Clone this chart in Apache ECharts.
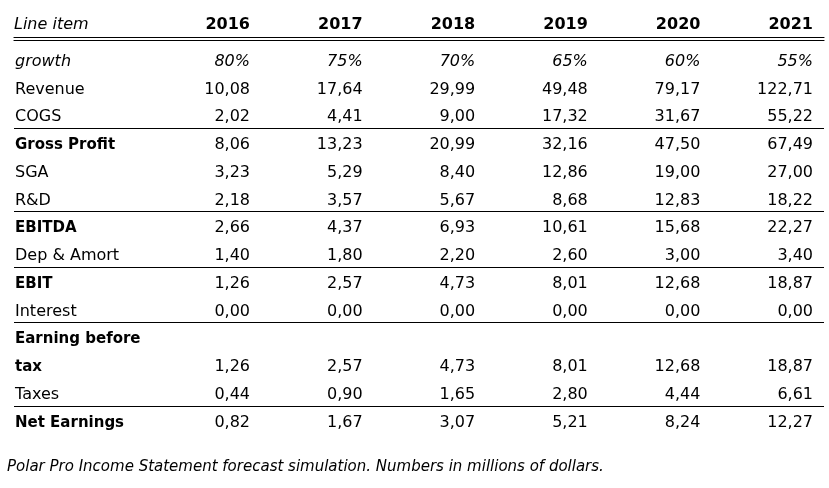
<!DOCTYPE html>
<html>
<head>
<meta charset="utf-8">
<script src="https://cdn.jsdelivr.net/npm/echarts@6/dist/echarts.min.js"></script>
<style>
  html, body { margin: 0; padding: 0; background: #fff; }
  #main { width: 829px; height: 488px; }
</style>
</head>
<body>
<div id="main"></div>
<script>
var years = ['2016', '2017', '2018', '2019', '2020', '2021'];
var rowLabels = ['growth', 'Revenue', 'COGS', 'Gross Profit', 'SGA', 'R&D', 'EBITDA',
    'Dep & Amort', 'EBIT', 'Interest', 'Earning before', 'tax', 'Taxes', 'Net Earnings'];

// growth in %, the rest in millions of dollars
var growth       = [80, 75, 70, 65, 60, 55];
var revenue      = [10.08, 17.64, 29.99, 49.48, 79.17, 122.71];
var cogs         = [2.02, 4.41, 9.00, 17.32, 31.67, 55.22];
var grossProfit  = [8.06, 13.23, 20.99, 32.16, 47.50, 67.49];
var sga          = [3.23, 5.29, 8.40, 12.86, 19.00, 27.00];
var rnd          = [2.18, 3.57, 5.67, 8.68, 12.83, 18.22];
var ebitda       = [2.66, 4.37, 6.93, 10.61, 15.68, 22.27];
var depAmort     = [1.40, 1.80, 2.20, 2.60, 3.00, 3.40];
var ebit         = [1.26, 2.57, 4.73, 8.01, 12.68, 18.87];
var interest     = [0.00, 0.00, 0.00, 0.00, 0.00, 0.00];
var earningBT    = [1.26, 2.57, 4.73, 8.01, 12.68, 18.87];
var taxes        = [0.44, 0.90, 1.65, 2.80, 4.44, 6.61];
var netEarnings  = [0.82, 1.67, 3.07, 5.21, 8.24, 12.27];

// one entry per table row ("Earning before tax" wraps over two rows)
var rowValues = [growth, revenue, cogs, grossProfit, sga, rnd, ebitda, depAmort,
    ebit, interest, null, earningBT, taxes, netEarnings];

var boldRows = ['Gross Profit', 'EBITDA', 'EBIT', 'Earning before', 'tax', 'Net Earnings'];
var italicRows = ['growth'];
var ruleAfter = ['COGS', 'R&D', 'Dep & Amort', 'Interest', 'Taxes'];

var caption = 'Polar Pro Income Statement forecast simulation. Numbers in millions of dollars.';

var FONT = 'DejaVu Sans';
var SIZE = 16;
var SHIFT = 3;

function fmt(row, v) {
    if (row === 'growth') return v + '%';
    return v.toFixed(2).replace('.', ',');
}

var cells = [];
rowValues.forEach(function (vals, r) {
    if (!vals) return;
    var name = rowLabels[r];
    vals.forEach(function (v, c) {
        cells.push({
            value: [c, r],
            label: {
                formatter: fmt(name, v),
                fontStyle: italicRows.indexOf(name) >= 0 ? 'italic' : 'normal'
            }
        });
    });
});

var dom = document.getElementById('main');
var myChart = echarts.init(dom);

var gridTop = 44.8, gridBottom = 54.4;
var band = (488 - gridTop - gridBottom) / rowLabels.length;
// grid 0 holds row names and rules; spare bands push the closing tick of
// its category axis (which always draws a rule) below the bottom of the page
var spare = ['', '', ''];

var option = {
    animation: false,
    textStyle: { fontFamily: FONT },
    title: [
        {
            text: 'Line item',
            left: 14, top: 15, padding: 0,
            textStyle: { fontFamily: FONT, fontSize: SIZE, fontWeight: 'normal', fontStyle: 'italic', color: '#000', lineHeight: 20 }
        },
        {
            text: caption,
            left: 7, top: 457, padding: 0,
            textStyle: { fontFamily: FONT, fontSize: SIZE - 1, fontWeight: 'normal', fontStyle: 'italic', color: '#000', lineHeight: 20 }
        }
    ],
    grid: [
        {
            left: 14, right: 5, top: gridTop,
            height: band * (rowLabels.length + spare.length),
            outerBoundsMode: 'none'
        },
        { left: 250, right: 16, top: gridTop, bottom: gridBottom }
    ],
    xAxis: [
        {
            gridIndex: 0, type: 'value', min: 0, max: 1, position: 'top', offset: 4.8,
            axisLine: { show: true, lineStyle: { color: '#000', width: 1.2 } },
            axisTick: { show: false }, axisLabel: { show: false }, splitLine: { show: false }
        },
        {
            gridIndex: 0, type: 'value', min: 0, max: 1, position: 'top', offset: 7.5,
            axisLine: { show: true, lineStyle: { color: '#000', width: 1.2 } },
            axisTick: { show: false }, axisLabel: { show: false }, splitLine: { show: false }
        },
        {
            gridIndex: 1, type: 'category', data: years, position: 'top', boundaryGap: false,
            axisLine: { show: false }, axisTick: { show: false },
            axisLabel: {
                align: 'right', margin: 12, color: '#000',
                fontFamily: FONT, fontSize: SIZE, fontWeight: 'bold'
            },
            splitLine: { show: false }
        }
    ],
    yAxis: [
        {
            gridIndex: 0, type: 'category', data: rowLabels.concat(spare), inverse: true,
            axisLine: { show: false }, axisTick: { show: false },
            axisLabel: {
                inside: true, align: 'left', margin: 1, color: '#000',
                fontFamily: FONT, fontSize: SIZE, padding: [SHIFT * 2, 0, 0, 0],
                formatter: function (name) {
                    if (boldRows.indexOf(name) >= 0) return '{b|' + name + '}';
                    if (italicRows.indexOf(name) >= 0) return '{i|' + name + '}';
                    return name;
                },
                rich: {
                    b: { fontFamily: FONT, fontSize: SIZE - 1, fontWeight: 'bold', color: '#000' },
                    i: { fontFamily: FONT, fontSize: SIZE, fontStyle: 'italic', color: '#000' }
                }
            },
            splitLine: {
                show: true,
                interval: function (index) {
                    return index > 0 && ruleAfter.indexOf(rowLabels[index - 1]) >= 0;
                },
                lineStyle: { color: '#000', width: 1.2 }
            }
        },
        {
            gridIndex: 1, type: 'category', data: rowLabels, inverse: true, show: false
        }
    ],
    series: [
        {
            type: 'scatter',
            xAxisIndex: 2, yAxisIndex: 1,
            symbolSize: 0,
            silent: true,
            itemStyle: { opacity: 1 },
            data: cells,
            label: {
                show: true, position: 'left', distance: 0, offset: [0, SHIFT],
                color: '#000', fontFamily: FONT, fontSize: SIZE
            }
        }
    ]
};
myChart.setOption(option);
</script>
</body>
</html>
